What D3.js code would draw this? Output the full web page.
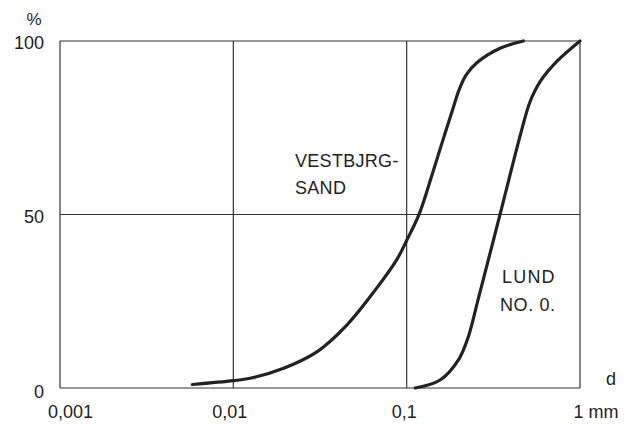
<!DOCTYPE html>
<html>
<head>
<meta charset="utf-8">
<script src="https://cdn.jsdelivr.net/npm/d3@7"></script>
<style>
  body { margin: 0; background: #fff; }
  text { font-family: "Liberation Sans", Arial, sans-serif; fill: #222; }
</style>
</head>
<body>
<div id="chart"></div>
<script>
(function () {
    "use strict";

    // grain size (mm) and percent passing
    var vestbjrgD = [0.0058, 0.01, 0.0125, 0.0195, 0.0305, 0.0453, 0.0658, 0.0877, 0.1, 0.118, 0.140, 0.162, 0.1854, 0.2006, 0.220, 0.255, 0.346, 0.471];
    var vestbjrgP = [1, 2.1, 2.8, 5.7, 10.5, 18.2, 28.2, 37.0, 42.5, 50.1, 61.4, 71.5, 80.7, 85.9, 90.2, 93.8, 97.9, 100];
    var lundD = [0.112, 0.156, 0.199, 0.227, 0.258, 0.346, 0.461, 0.515, 0.589, 0.735, 1.0];
    var lundP = [0, 2.3, 8.1, 14.8, 25.4, 50.1, 74.4, 82.5, 88.3, 94.1, 100];

    var xTicks = [0.001, 0.01, 0.1, 1];
    var xTickLabels = ["0,001", "0,01", "0,1", "1 mm"];
    var yTicks = [0, 50, 100];
    var yTickLabels = ["0", "50", "100"];

    var w = 630, h = 425;
    var left = 60, right = 580, top = 41, bottom = 388;

    var svg = d3.select("#chart").append("svg")
        .attr("width", w)
        .attr("height", h);

    var x = d3.scaleLog().domain([0.001, 1]).range([left, right]);
    var y = d3.scaleLinear().domain([0, 100]).range([bottom, top]);

    // grid lines and frame
    svg.append("g").selectAll("line")
        .data(xTicks)
        .enter().append("line")
        .attr("x1", function (d) { return x(d); })
        .attr("x2", function (d) { return x(d); })
        .attr("y1", top).attr("y2", bottom)
        .attr("stroke", "#333").attr("stroke-width", 1.2);

    svg.append("g").selectAll("line")
        .data(yTicks)
        .enter().append("line")
        .attr("y1", function (d) { return y(d); })
        .attr("y2", function (d) { return y(d); })
        .attr("x1", left).attr("x2", right)
        .attr("stroke", "#333").attr("stroke-width", 1.2);

    // y axis labels
    var yAxis = svg.append("g")
        .attr("transform", "translate(" + (left - 16) + ",0)")
        .call(d3.axisLeft(y).tickValues(yTicks).tickSize(0)
            .tickFormat(function (d, i) { return yTickLabels[i]; }));
    yAxis.select(".domain").remove();
    yAxis.attr("font-family", null);
    yAxis.selectAll("text")
        .attr("x", 0)
        .attr("dy", function (d) { return d === 0 ? "0.55em" : "0.42em"; })
        .style("font-size", "18px")
        .attr("fill", "#222");

    // x axis labels
    var xAxis = svg.append("g")
        .attr("transform", "translate(0," + bottom + ")")
        .call(d3.axisBottom(x).tickValues(xTicks).tickSize(0)
            .tickFormat(function (d, i) { return xTickLabels[i]; }));
    xAxis.select(".domain").remove();
    xAxis.attr("font-family", null);
    xAxis.selectAll("text")
        .attr("y", 30)
        .attr("dy", null)
        .style("font-size", "18px")
        .attr("fill", "#222")
        .attr("text-anchor", function (d, i) { return i === xTicks.length - 1 ? "start" : "middle"; })
        .attr("dx", function (d, i) { return [10, -4, -3, -7][i]; });

    svg.append("text").attr("x", 34).attr("y", 25)
        .attr("text-anchor", "middle").style("font-size", "17px").text("%");
    svg.append("text").attr("x", 611).attr("y", 385)
        .attr("text-anchor", "middle").style("font-size", "18px").text("d");

    // curves
    var line = d3.line()
        .x(function (d) { return x(d[0]); })
        .y(function (d) { return y(d[1]); })
        .curve(d3.curveCatmullRom.alpha(0.5));

    var series = [d3.zip(vestbjrgD, vestbjrgP), d3.zip(lundD, lundP)];
    svg.append("g").selectAll("path")
        .data(series)
        .enter().append("path")
        .attr("d", line)
        .attr("fill", "none")
        .attr("stroke", "#222")
        .attr("stroke-width", 3.2)
        .attr("stroke-linecap", "round");

    // curve names
    var names = [
        { t: "VESTBJRG-", x: 295, y: 167, ls: 0.3 },
        { t: "SAND", x: 295, y: 194, ls: 0.3 },
        { t: "LUND", x: 502, y: 283, ls: 1.2 },
        { t: "NO. 0.", x: 500, y: 311, ls: 0.6 }
    ];
    svg.append("g").selectAll("text")
        .data(names)
        .enter().append("text")
        .attr("x", function (d) { return d.x; })
        .attr("y", function (d) { return d.y; })
        .style("font-size", "18px")
        .style("letter-spacing", function (d) { return d.ls + "px"; })
        .text(function (d) { return d.t; });
})();
</script>
</body>
</html>
